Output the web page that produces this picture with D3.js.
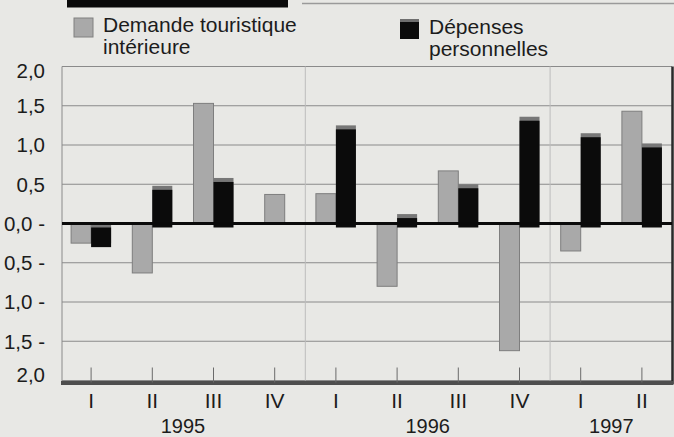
<!DOCTYPE html>
<html>
<head>
<meta charset="utf-8">
<script src="https://cdn.jsdelivr.net/npm/d3@7"></script>
<style>
  body { margin: 0; background: #e8e8e5; }
  svg { display: block; font-family: "Liberation Sans", Arial, Helvetica, sans-serif; }
</style>
</head>
<body>
<svg width="674" height="437"></svg>
<script>
// values (quarterly change, %)
const quarters = ["I", "II", "III", "IV", "I", "II", "III", "IV", "I", "II"];
const years = ["1995", "1995", "1995", "1995", "1996", "1996", "1996", "1996", "1997", "1997"];
const demande = [-0.25, -0.63, 1.53, 0.37, 0.38, -0.80, 0.67, -1.62, -0.35, 1.43];
const depenses = [-0.25, 0.48, 0.58, null, 1.25, 0.12, 0.50, 1.36, 1.15, 1.02];
const seriesNames = ["Demande touristique intérieure", "Dépenses personnelles"];
const yTicks = [2, 1.5, 1, 0.5, 0, -0.5, -1, -1.5, -2];
const yTickLabels = ["2,0", "1,5", "1,0", "0,5", "0,0 -", "0,5 -", "1,0 -", "1,5 -", "2,0"];

const keys = quarters.map((q, i) => years[i] + "-" + q);
const rows = keys.map((k, i) => ({key: k, q: quarters[i], year: years[i], d: demande[i], p: depenses[i]}));

const svg = d3.select("svg");
const ink = "#1c1c1c";

const x = d3.scaleBand().domain(keys).range([60.5, 672.5]);
const xi = d3.scaleBand().domain(["d", "p"]).range([0, x.bandwidth()]).paddingOuter(0.53);
const y = d3.scaleLinear().domain([-2, 2]).range([380.5, 66.5]);

// header strip
svg.append("rect").attr("x", 67).attr("y", 0).attr("width", 221).attr("height", 7.5).attr("fill", "#0a0a0a");
svg.append("line").attr("x1", 302).attr("x2", 674).attr("y1", 3.5).attr("y2", 3.5)
  .attr("stroke", "#9a9a9a").attr("stroke-width", 1.5);

// legend
const legend = [
  {x: 74, y: 18, fill: "#a9a9a9", base: 32, lines: ["Demande touristique", "intérieure"]},
  {x: 400, y: 19, fill: "#0b0b0b", base: 34, lines: ["Dépenses", "personnelles"]}
];
legend.forEach((l, i) => {
  svg.append("rect").attr("x", l.x).attr("y", l.y).attr("width", 19).attr("height", 19)
    .attr("fill", i ? "#6f6f6f" : l.fill).attr("stroke", i ? "none" : "#808080");
  if (i) svg.append("rect").attr("x", l.x).attr("y", l.y + 3).attr("width", 19).attr("height", 17).attr("fill", l.fill);
  const t = svg.append("text").attr("x", l.x + 29).attr("y", l.base)
    .attr("font-size", 21).attr("fill", ink).attr("aria-label", seriesNames[i]);
  l.lines.forEach((s, j) => t.append("tspan").attr("x", l.x + 29).attr("dy", j ? 21.5 : 0).text(s));
});

// gridlines
svg.append("g").selectAll("line").data(yTicks.filter(t => t !== 0)).join("line")
  .attr("x1", 62).attr("x2", 672).attr("y1", d => y(d)).attr("y2", d => y(d))
  .attr("stroke", "#8a8a8a").attr("stroke-width", 1);

// year separators
const yearStarts = keys.filter((k, i) => i > 0 && years[i] !== years[i - 1]);
svg.append("g").selectAll("line").data(yearStarts).join("line")
  .attr("x1", d => x(d)).attr("x2", d => x(d)).attr("y1", y(2)).attr("y2", y(-2))
  .attr("stroke", "#bcbcbc").attr("stroke-width", 1);

// frame left / right
svg.append("line").attr("x1", 62).attr("x2", 62).attr("y1", y(2)).attr("y2", y(-2) + 2)
  .attr("stroke", "#8a8a8a");
svg.append("line").attr("x1", 672.5).attr("x2", 672.5).attr("y1", y(2)).attr("y2", y(-2) + 4)
  .attr("stroke", "#2a2a2a").attr("stroke-width", 2.5);

// left axis labels
const yAxis = svg.append("g").attr("transform", "translate(45,0)")
  .call(d3.axisLeft(y).tickValues(yTicks).tickFormat((d, i) => yTickLabels[i]).tickSize(0).tickPadding(0));
yAxis.attr("font-family", null);
yAxis.select(".domain").remove();
yAxis.selectAll("text").attr("font-size", 20.5).attr("fill", ink)
  .attr("dy", (d, i) => i === 0 ? "0.55em" : i === yTicks.length - 1 ? "0.05em" : "0.34em");

// bottom axis
const xAxis = svg.append("g").attr("transform", `translate(0,${y(-2) + 2})`)
  .call(d3.axisBottom(x).tickFormat((d, i) => quarters[i]).tickSizeInner(-15).tickSizeOuter(0).tickPadding(11));
xAxis.attr("font-family", null);
xAxis.select(".domain").attr("stroke", "#4e4e4e").attr("stroke-width", 4);
xAxis.selectAll(".tick line").attr("stroke", "#6a6a6a");
xAxis.selectAll("text").attr("font-size", 21).attr("fill", ink);

// year labels
const yearGroups = d3.groups(rows, r => r.year);
svg.append("g").selectAll("text").data(yearGroups).join("text")
  .attr("x", ([, rs]) => (x(rs[0].key) + x(rs[rs.length - 1].key) + x.bandwidth()) / 2)
  .attr("y", 433)
  .attr("text-anchor", "middle").attr("font-size", 20).attr("fill", ink)
  .text(([yr]) => yr);

// bars: Demande touristique (gray)
const bars = svg.append("g");
bars.selectAll("rect.dem").data(rows).join("rect").attr("class", "dem")
  .attr("x", r => r.p == null ? x(r.key) + (x.bandwidth() - xi.bandwidth()) / 2 : x(r.key) + xi("d"))
  .attr("width", xi.bandwidth())
  .attr("y", r => y(Math.max(r.d, 0)))
  .attr("height", r => Math.abs(y(r.d) - y(0)))
  .attr("fill", "#a9a9a9").attr("stroke", "#7e7e7e").attr("stroke-width", 1);

// bars: Dépenses personnelles (black, printed slightly off-register)
const dep = rows.filter(r => r.p != null);
bars.selectAll("rect.depcap").data(dep).join("rect").attr("class", "depcap")
  .attr("x", r => x(r.key) + xi("p"))
  .attr("width", xi.bandwidth())
  .attr("y", r => y(Math.max(r.p, 0)))
  .attr("height", r => Math.abs(y(r.p) - y(0)))
  .attr("fill", "#777");
bars.selectAll("rect.dep").data(dep).join("rect").attr("class", "dep")
  .attr("x", r => x(r.key) + xi("p"))
  .attr("width", xi.bandwidth())
  .attr("y", r => y(Math.max(r.p, 0)) + 4)
  .attr("height", r => Math.abs(y(r.p) - y(0)))
  .attr("fill", "#0b0b0b");

// zero line
svg.append("line").attr("x1", 62).attr("x2", 672).attr("y1", y(0)).attr("y2", y(0))
  .attr("stroke", "#0a0a0a").attr("stroke-width", 3);
</script>
</body>
</html>
